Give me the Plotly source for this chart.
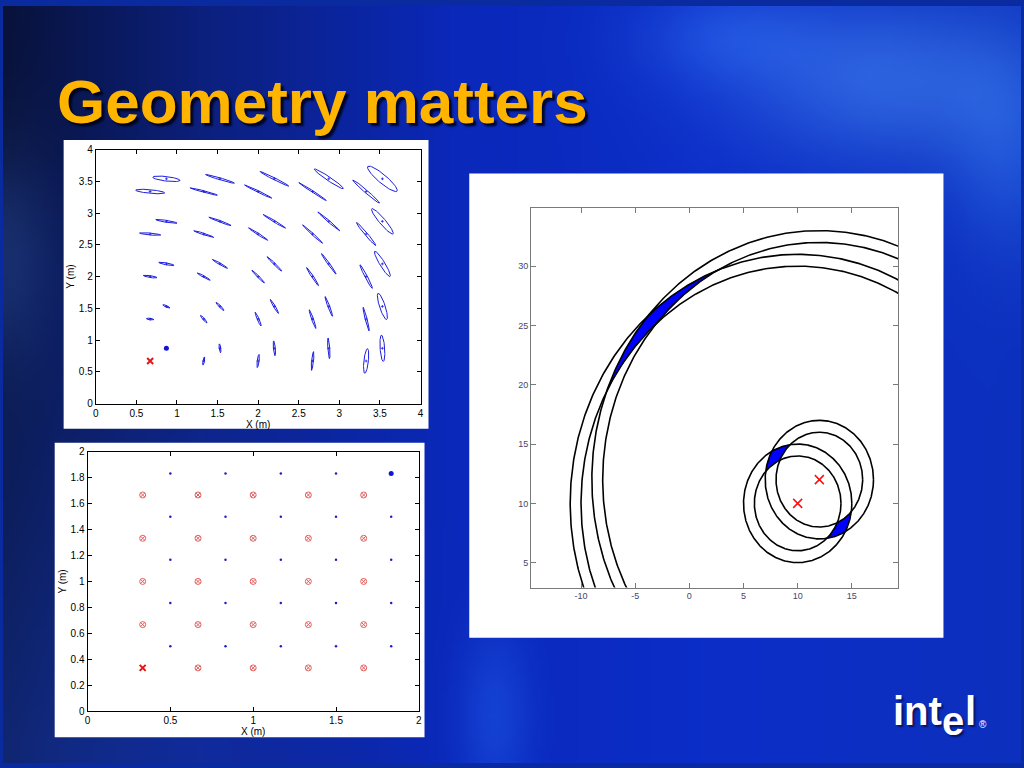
import numpy as np
import plotly.graph_objects as go
import base64, zlib, struct

# ---------------- Panel 1: uncertainty ellipses (X (m), Y (m)) ----------------
ell_x = [0.87, 1.53, 2.20, 2.87, 3.53,
         0.67, 1.33, 2.00, 2.67, 3.33,
         0.87, 1.53, 2.20, 2.87, 3.53,
         0.67, 1.33, 2.00, 2.67, 3.33,
         0.87, 1.53, 2.20, 2.87, 3.53,
         0.67, 1.33, 2.00, 2.67, 3.33,
         0.87, 1.53, 2.20, 2.87, 3.53,
         0.67, 1.33, 2.00, 2.67, 3.33,
         1.53, 2.20, 2.87, 3.53,
         1.33, 2.00, 2.67, 3.33]
ell_y = [3.54] * 5 + [3.34] * 5 + [2.87] * 5 + [2.67] * 5 + [2.20] * 5 + \
        [2.00] * 5 + [1.53] * 5 + [1.33] * 5 + [0.87] * 4 + [0.67] * 4
ell_a = [0.170, 0.190, 0.210, 0.235, 0.265,
         0.180, 0.177, 0.197, 0.220, 0.244,
         0.134, 0.152, 0.175, 0.200, 0.238,
         0.131, 0.133, 0.154, 0.190, 0.216,
         0.097, 0.116, 0.144, 0.184, 0.220,
         0.086, 0.098, 0.126, 0.160, 0.200,
         0.050, 0.080, 0.121, 0.161, 0.213,
         0.046, 0.071, 0.114, 0.152, 0.190,
         0.070, 0.117, 0.163, 0.207,
         0.065, 0.104, 0.148, 0.195]
ell_b = [0.035, 0.015, 0.015, 0.028, 0.060,
         0.028, 0.012, 0.012, 0.012, 0.020,
         0.015, 0.012, 0.012, 0.012, 0.040,
         0.015, 0.012, 0.012, 0.012, 0.018,
         0.015, 0.012, 0.012, 0.012, 0.033,
         0.015, 0.012, 0.012, 0.012, 0.015,
         0.012, 0.012, 0.012, 0.012, 0.035,
         0.012, 0.012, 0.012, 0.012, 0.012,
         0.010, 0.012, 0.012, 0.028,
         0.010, 0.012, 0.012, 0.028]
ell_ang = [-9, -21, -33, -41, -48,
           -7, -19, -32, -40, -48,
           -12, -26, -38, -48, -57,
           -7, -23, -40, -50, -57,
           -14, -37, -52, -61, -65,
           -12, -36, -53, -63, -68,
           -31, -54, -66, -74, -76,
           -10, -57, -72, -75, -79,
           -85, -86, -87, -87,
           81, 84, 85, 85]
p1_anchor_dot = (0.87, 0.87)
p1_anchor_x = (0.67, 0.67)

# ---------------- Panel 2: second geometry ----------------
p2_red_cols = [0.333, 0.667, 1.0, 1.333, 1.667]
p2_red_rows = [0.333, 0.667, 1.0, 1.333, 1.667]
p2_blue_cols = [0.5, 0.833, 1.167, 1.5, 1.833]
p2_blue_rows = [0.5, 0.833, 1.167, 1.5, 1.833]
p2_anchor_x = (0.333, 0.333)
p2_anchor_dot = (1.833, 1.833)

# ---------------- Panel 3: ranging circles ----------------
circ_cx = [10, 12]
circ_cy = [10, 12]
big_radii = [20, 21]
small_radii = [4, 5]

p3_xticks = [-10, -5, 0, 5, 10, 15]
p3_yticks = [5, 10, 15, 20, 25, 30]

# ---------------- background image ----------------
def make_background():
    W, H = 256, 192
    xs = (np.arange(W) + 0.5) / W * 1024
    ys = (np.arange(H) + 0.5) / H * 768
    X, Y = np.meshgrid(xs, ys)
    stops_x = [0, 200, 450, 700, 1024]
    stops_c = np.array([[8, 18, 58], [12, 32, 125], [10, 40, 185], [12, 46, 200], [12, 48, 190]], float)
    img = np.zeros((H, W, 3))
    for k in range(3):
        img[..., k] = np.interp(X, stops_x, stops_c[:, k])
    lowleft = np.exp(-((X - 0) / 260) ** 2) * np.clip((Y - 150) / 600, 0, 1)
    img += lowleft[..., None] * np.array([8, 20, 55])

    def blob(cx, cy, sx, sy, col):
        g = np.exp(-(((X - cx) / sx) ** 2 + ((Y - cy) / sy) ** 2))
        return g[..., None] * np.array(col, float)
    img += blob(890, 75, 150, 85, [32, 50, 28])
    img += blob(1010, 150, 60, 110, [15, 28, 20])
    img += blob(730, 30, 90, 50, [14, 26, 18])
    img += blob(0, 250, 50, 110, [15, 25, 40])
    img += blob(495, 720, 35, 90, [10, 24, 22])
    img = np.clip(img, 0, 255).astype(np.uint8)
    raw = b''.join(b'\x00' + img[i].tobytes() for i in range(H))

    def chunk(t, d):
        return struct.pack('>I', len(d)) + t + d + struct.pack('>I', zlib.crc32(t + d) & 0xffffffff)
    png = (b'\x89PNG\r\n\x1a\n' + chunk(b'IHDR', struct.pack('>IIBBBBB', W, H, 8, 2, 0, 0, 0))
           + chunk(b'IDAT', zlib.compress(raw, 9)) + chunk(b'IEND', b''))
    return 'data:image/png;base64,' + base64.b64encode(png).decode()


fig = go.Figure()

# ---- panel 1 traces ----
t = np.linspace(0, 2 * np.pi, 72)
ex, ey = [], []
for cx, cy, a, b, ang in zip(ell_x, ell_y, ell_a, ell_b, ell_ang):
    th = np.deg2rad(ang)
    ex += list(cx + a * np.cos(t) * np.cos(th) - b * np.sin(t) * np.sin(th)) + [None]
    ey += list(cy + a * np.cos(t) * np.sin(th) + b * np.sin(t) * np.cos(th)) + [None]
fig.add_trace(go.Scatter(x=ex, y=ey, mode='lines', line=dict(color='#1c1ce0', width=1),
                         xaxis='x', yaxis='y', hoverinfo='skip'))
fig.add_trace(go.Scatter(x=ell_x, y=ell_y, mode='markers',
                         marker=dict(symbol='cross-thin', size=2, line=dict(color='#1c1ce0', width=0.8)),
                         xaxis='x', yaxis='y'))
fig.add_trace(go.Scatter(x=[p1_anchor_dot[0]], y=[p1_anchor_dot[1]], mode='markers',
                         marker=dict(symbol='circle', size=5, color='#1414d8'), xaxis='x', yaxis='y'))
fig.add_trace(go.Scatter(x=[p1_anchor_x[0]], y=[p1_anchor_x[1]], mode='markers',
                         marker=dict(symbol='x-thin', size=6, line=dict(color='#e01818', width=2)),
                         xaxis='x', yaxis='y'))

# ---- panel 2 traces ----
rx, ry = [], []
for yv in p2_red_rows:
    for xv in p2_red_cols:
        if (xv, yv) != p2_anchor_x:
            rx.append(xv); ry.append(yv)
bx, by = [], []
for yv in p2_blue_rows:
    for xv in p2_blue_cols:
        if (xv, yv) != p2_anchor_dot:
            bx.append(xv); by.append(yv)
fig.add_trace(go.Scatter(x=rx, y=ry, mode='markers',
                         marker=dict(symbol='circle-x-open', size=6, color='#e26060', line=dict(width=1)),
                         xaxis='x2', yaxis='y2'))
fig.add_trace(go.Scatter(x=bx, y=by, mode='markers',
                         marker=dict(symbol='circle', size=2.5, color='#2020c0'),
                         xaxis='x2', yaxis='y2'))
fig.add_trace(go.Scatter(x=[p2_anchor_dot[0]], y=[p2_anchor_dot[1]], mode='markers',
                         marker=dict(symbol='circle', size=5, color='#1414d8'), xaxis='x2', yaxis='y2'))
fig.add_trace(go.Scatter(x=[p2_anchor_x[0]], y=[p2_anchor_x[1]], mode='markers',
                         marker=dict(symbol='x-thin', size=6, line=dict(color='#e01818', width=2)),
                         xaxis='x2', yaxis='y2'))

# ---- panel 3 traces ----
def annulus_intersection(cA, cB, r_in, r_out, n=4000):
    cA = np.array(cA, float); cB = np.array(cB, float)
    d = cB - cA
    start = np.arctan2(d[1], d[0])
    phi = np.linspace(start, start + 2 * np.pi, n)
    ux, uy = np.cos(phi), np.sin(phi)
    ud = ux * d[0] + uy * d[1]
    dd = d @ d
    g_in = ud + np.sqrt(np.maximum(ud ** 2 - dd + r_in ** 2, 0))
    g_out = ud + np.sqrt(np.maximum(ud ** 2 - dd + r_out ** 2, 0))
    lo = np.maximum(r_in, g_in)
    hi = np.minimum(r_out, g_out)
    valid = lo <= hi
    polys = []
    i = 0
    while i < n:
        if valid[i]:
            j = i
            while j < n and valid[j]:
                j += 1
            idx = np.arange(i, j)
            px = np.concatenate([cA[0] + hi[idx] * ux[idx], (cA[0] + lo[idx] * ux[idx])[::-1]])
            py = np.concatenate([cA[1] + hi[idx] * uy[idx], (cA[1] + lo[idx] * uy[idx])[::-1]])
            polys.append((px, py))
            i = j
        else:
            i += 1
    return polys

for radii in (big_radii, small_radii):
    for px, py in annulus_intersection((circ_cx[0], circ_cy[0]), (circ_cx[1], circ_cy[1]),
                                       radii[0], radii[1]):
        fig.add_trace(go.Scatter(x=list(px) + [px[0]], y=list(py) + [py[0]], mode='lines',
                                 fill='toself', fillcolor='#0000ff', line=dict(color='#0000ff', width=0.5),
                                 xaxis='x3', yaxis='y3', hoverinfo='skip'))

tc = np.linspace(0, 2 * np.pi, 721)
cxs, cys = [], []
for cx, cy in zip(circ_cx, circ_cy):
    for r in big_radii + small_radii:
        cxs += list(cx + r * np.cos(tc)) + [None]
        cys += list(cy + r * np.sin(tc)) + [None]
fig.add_trace(go.Scatter(x=cxs, y=cys, mode='lines', line=dict(color='black', width=1.6),
                         xaxis='x3', yaxis='y3', hoverinfo='skip'))
fig.add_trace(go.Scatter(x=circ_cx, y=circ_cy, mode='markers',
                         marker=dict(symbol='x-thin', size=9, line=dict(color='#ff1010', width=1.5)),
                         xaxis='x3', yaxis='y3'))

# ---------------- layout ----------------
W, H = 1024, 768
def dx(a, b): return [a / W, b / W]
def dy(top, bottom): return [1 - bottom / H, 1 - top / H]

axfont = dict(family='Liberation Sans, Arial, sans-serif', size=10, color='black')
common = dict(showgrid=False, zeroline=False, showline=True, linecolor='black', linewidth=1,
              mirror='ticks', ticks='inside', ticklen=4, tickcolor='black', tickfont=axfont)

p3font = dict(family='Liberation Sans, Arial, sans-serif', size=9, color='#45456a')
common3 = dict(showgrid=False, zeroline=False, showline=True, linecolor='#7a7a7a', linewidth=1,
               mirror='ticks', ticks='inside', ticklen=5, tickcolor='#7a7a7a', tickfont=p3font)

fig.update_layout(
    width=W, height=H, margin=dict(l=0, r=0, t=0, b=0),
    paper_bgcolor='#0a2aa0', plot_bgcolor='rgba(0,0,0,0)', showlegend=False,
    xaxis=dict(domain=dx(93.3, 420), range=[0, 4], dtick=0.5, tick0=0, anchor='y',
               title=dict(text='X (m)', font=axfont, standoff=0), **common),
    yaxis=dict(domain=dy(145.7, 403.3), range=[0, 4], dtick=0.5, tick0=0, anchor='x',
               title=dict(text='Y (m)', font=axfont, standoff=2), **common),
    xaxis2=dict(domain=dx(85, 418.3), range=[0, 2], dtick=0.5, tick0=0, anchor='y2',
                title=dict(text='X (m)', font=axfont, standoff=0), **common),
    yaxis2=dict(domain=dy(452.3, 715.3), range=[0, 2], dtick=0.2, tick0=0, anchor='x2',
                title=dict(text='Y (m)', font=axfont, standoff=2), **common),
    xaxis3=dict(domain=dx(531.3, 900.7), range=[-14.6, 19.3], anchor='y3',
                tickvals=p3_xticks, ticktext=[str(v) for v in p3_xticks], **common3),
    yaxis3=dict(domain=dy(205, 590), range=[2.9, 34.9], anchor='x3',
                tickvals=p3_yticks, ticktext=[str(v) for v in p3_yticks], **common3),
)

fig.add_layout_image(dict(source=make_background(), xref='paper', yref='paper', x=0, y=1,
                          sizex=1, sizey=1, xanchor='left', yanchor='top', sizing='stretch',
                          layer='below'))

for (x0, x1, y0, y1) in [(61, 428, 136, 429), (52, 424, 443, 742), (469, 946, 170, 641)]:
    fig.add_shape(type='rect', xref='paper', yref='paper', x0=x0 / W, x1=x1 / W,
                  y0=1 - y1 / H, y1=1 - y0 / H, fillcolor='white', line=dict(width=0), layer='below')

fig.add_annotation(text='<b>Geometry matters</b>', xref='paper', yref='paper', x=52 / W, y=1 - 97 / H,
                   xanchor='left', yanchor='middle', showarrow=False,
                   font=dict(family='Liberation Sans, Arial, sans-serif', size=62, color='#ffb400',
                             shadow='3px 3px 2px rgba(0,0,20,0.85)'))

logo_font = dict(family='Liberation Sans, Arial, sans-serif', size=40, color='white',
                 shadow='2px 2px 2px rgba(0,0,40,0.6)')
for txt, x0, yc in [('<b>int</b>', 895, 715), ('<b>e</b>', 945, 725), ('<b>l</b>', 968, 715)]:
    fig.add_annotation(text=txt, xref='paper', yref='paper', x=x0 / W, y=1 - yc / H,
                       xanchor='left', yanchor='middle', showarrow=False, font=logo_font,
                       borderpad=0, borderwidth=0)
fig.add_annotation(text='®', xref='paper', yref='paper', x=982 / W, y=1 - 729 / H,
                   xanchor='left', yanchor='middle', showarrow=False, borderpad=0, borderwidth=0,
                   font=dict(family='Liberation Sans, Arial, sans-serif', size=10, color='white'))

fig.write_html('out.html', config={'displayModeBar': False},
               post_script="document.body.style.margin='0';document.body.style.overflow='hidden';")
